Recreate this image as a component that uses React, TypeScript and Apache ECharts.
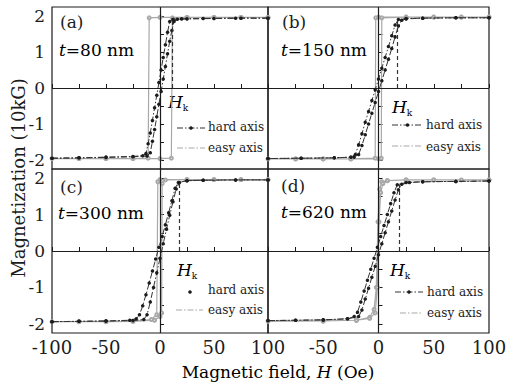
import React, { useEffect, useRef } from 'react';
import * as echarts from 'echarts';

// ---- data ----
const PANEL_TAGS = ['(a)', '(b)', '(c)', '(d)'];
const THICKNESS_NM = ['80', '150', '300', '620'];
const HK_FIELD = [11, 17, 17.5, 19];
const HK_TOP = [1.9, 1.88, 1.86, 1.82];
const X_TICKS = [-100, -75, -50, -25, 0, 25, 50, 75, 100];
const X_LABELS_LEFT = [-100, -50, 0, 50, 100];
const X_LABELS_RIGHT = [-50, 0, 50, 100];
const Y_TICKS = [-2, -1.5, -1, -0.5, 0, 0.5, 1, 1.5, 2];
const Y_LABELS = [-2, -1, 0, 1, 2];

// panel (a) t = 80 nm
const hardDownA = [[100,1.94],[70,1.94],[40,1.93],[20,1.92],[12,1.91],[9,1.85],[7,1.55],[5,1.2],[3,0.85],[1,0.5],[-1,0.15],[-3,-0.2],[-5,-0.55],[-7,-0.9],[-9,-1.25],[-11,-1.55],[-13,-1.82],[-16,-1.88],[-25,-1.9],[-50,-1.92],[-75,-1.94],[-100,-1.95]];
const hardUpA = [[-100,-1.95],[-75,-1.94],[-50,-1.93],[-25,-1.91],[-12,-1.89],[-9,-1.8],[-7,-1.48],[-5,-1.15],[-3,-0.8],[-1,-0.45],[1,-0.1],[3,0.25],[5,0.6],[7,0.95],[9,1.3],[11,1.6],[13,1.85],[16,1.91],[25,1.92],[50,1.93],[75,1.94],[100,1.94]];
const easyA = [[100,1.96],[75,1.96],[50,1.96],[25,1.96],[0,1.96],[-10,1.95],[-11,-1.95],[-25,-1.96],[-50,-1.96],[-75,-1.96],[-100,-1.96],[-75,-1.96],[-50,-1.96],[-25,-1.96],[0,-1.96],[10.5,-1.95],[11.5,1.95],[25,1.96],[50,1.96],[75,1.96],[100,1.96]];

// panel (b) t = 150 nm
const hardDownB = [[100,1.95],[70,1.95],[40,1.94],[25,1.93],[18,1.9],[15,1.75],[12,1.45],[9,1.15],[6,0.85],[3,0.55],[0,0.25],[-3,-0.05],[-6,-0.35],[-9,-0.65],[-12,-0.95],[-15,-1.27],[-18,-1.58],[-21,-1.85],[-25,-1.92],[-40,-1.94],[-70,-1.95],[-100,-1.96]];
const hardUpB = [[-100,-1.96],[-70,-1.95],[-40,-1.94],[-22,-1.92],[-18,-1.85],[-15,-1.6],[-12,-1.3],[-9,-1.0],[-6,-0.7],[-3,-0.4],[0,-0.1],[3,0.2],[6,0.5],[9,0.8],[12,1.1],[15,1.42],[18,1.72],[21,1.88],[25,1.92],[40,1.94],[70,1.95],[100,1.95]];
const easyB = [[100,1.97],[75,1.97],[50,1.97],[25,1.97],[0,1.97],[-2.5,1.95],[-3,-1.95],[-25,-1.97],[-50,-1.97],[-75,-1.97],[-100,-1.97],[-75,-1.97],[-50,-1.97],[-25,-1.97],[0,-1.97],[2.5,-1.95],[3,1.95],[25,1.97],[50,1.97],[75,1.97],[100,1.97]];

// panel (c) t = 300 nm
const hardDownC = [[100,1.95],[70,1.95],[40,1.94],[25,1.93],[17,1.88],[14,1.72],[11,1.38],[8,1.05],[5,0.72],[2,0.4],[-1,0.1],[-4,-0.22],[-7,-0.55],[-10,-0.88],[-13,-1.2],[-16,-1.5],[-19,-1.75],[-22,-1.86],[-28,-1.9],[-50,-1.92],[-75,-1.93],[-100,-1.94]];
const hardUpC = [[-100,-1.94],[-75,-1.93],[-50,-1.92],[-25,-1.91],[-15,-1.88],[-12,-1.75],[-9,-1.4],[-6,-1.0],[-3,-0.6],[0,-0.2],[3,0.2],[6,0.6],[9,0.98],[12,1.35],[15,1.7],[18,1.88],[25,1.93],[40,1.94],[70,1.95],[100,1.95]];
const easyC = [[100,1.96],[75,1.96],[50,1.96],[25,1.96],[0,1.96],[-2,1.9],[-3,-1.75],[-8,-1.88],[-25,-1.93],[-50,-1.94],[-75,-1.94],[-100,-1.94],[-75,-1.94],[-50,-1.94],[-25,-1.93],[-5,-1.9],[0,-1.8],[1.5,-1.7],[2,1.85],[5,1.95],[25,1.96],[50,1.96],[75,1.96],[100,1.96]];

// panel (d) t = 620 nm
const hardDownD = [[100,1.92],[70,1.91],[40,1.9],[25,1.88],[17,1.82],[14,1.6],[11,1.3],[8,1.0],[5,0.7],[2,0.4],[-1,0.1],[-4,-0.2],[-7,-0.5],[-10,-0.8],[-13,-1.1],[-16,-1.4],[-19,-1.68],[-22,-1.8],[-28,-1.86],[-50,-1.89],[-75,-1.9],[-100,-1.91]];
const hardUpD = [[-100,-1.91],[-75,-1.9],[-50,-1.89],[-28,-1.86],[-18,-1.8],[-15,-1.62],[-12,-1.32],[-9,-1.02],[-6,-0.72],[-3,-0.42],[0,-0.1],[3,0.2],[6,0.5],[9,0.8],[12,1.1],[15,1.4],[18,1.68],[21,1.83],[28,1.88],[40,1.9],[70,1.91],[100,1.92]];
const easyD = [[100,1.95],[75,1.95],[50,1.95],[25,1.95],[8,1.93],[3,1.9],[1,1.7],[-0.5,0.8],[-2,-1.0],[-4,-1.6],[-8,-1.82],[-20,-1.9],[-50,-1.92],[-100,-1.93],[-50,-1.92],[-20,-1.9],[-8,-1.85],[-3,-1.7],[-1,-1.0],[0.5,0.8],[2,1.6],[4,1.85],[8,1.93],[25,1.95],[50,1.95],[100,1.95]];

const HARD_DOWN = [hardDownA, hardDownB, hardDownC, hardDownD];
const HARD_UP = [hardUpA, hardUpB, hardUpC, hardUpD];
const EASY = [easyA, easyB, easyC, easyD];

// ---- layout ----
const GRID_LEFT = [52, 268, 52, 268];
const GRID_TOP = [7, 7, 169, 169];
const GRID_W = [216, 221, 216, 221];
const GRID_H = [162, 162, 164, 164];
const TAG_POS = [[60, 22], [282, 22], [60, 187], [281, 186]];
const THICK_POS = [[59, 50], [281, 50], [58, 213], [281, 212]];
const HK_POS = [[168, 102], [392, 107], [177, 270], [390, 270]];
const LEG_HARD = [[177, 205, 128], [392, 423, 125], [190, 190, 292], [395, 423, 292]];
const LEG_EASY = [[177, 205, 148], [392, 423, 146], [176, 203, 310], [400, 423, 313]];
const LEG_TEXT_X = [208, 426, 208, 427];
const LEG_TEXT_Y = [[127, 148], [125, 147], [290, 310], [292, 313]];

const FONT = 'DejaVu Serif';
const INK = '#1c1c1c';
const GRAY = '#a8a8a8';
const DASHDOT = [6, 2, 1.5, 2];

export default function App() {
  const ref = useRef<HTMLDivElement>(null);
  useEffect(() => {
    document.body.style.margin = '0';
    const chart = echarts.init(ref.current!, null, { renderer: 'svg' });
    const grid: any[] = [];
    const xAxis: any[] = [];
    const yAxis: any[] = [];
    const series: any[] = [];
    const graphic: any[] = [];
    for (let i = 0; i < 4; i++) {
      grid.push({ left: GRID_LEFT[i], top: GRID_TOP[i], width: GRID_W[i], height: GRID_H[i], show: true, borderColor: INK, borderWidth: 1.2, backgroundColor: 'transparent' });
      const bottomRow = i >= 2;
      const leftCol = i % 2 === 0;
      xAxis.push({
        type: 'value', gridIndex: i, min: -100, max: 100, interval: 25,
        axisLine: { show: false },
        axisTick: { show: true, inside: true, length: 4, lineStyle: { color: INK }, customValues: X_TICKS },
        splitLine: { show: false },
        axisLabel: bottomRow
          ? { show: true, customValues: leftCol ? X_LABELS_LEFT : X_LABELS_RIGHT, fontFamily: FONT, fontSize: 18, color: INK, margin: 5 }
          : { show: false },
      });
      yAxis.push({
        type: 'value', gridIndex: i, min: -2.25, max: 2.25,
        axisLine: { show: false },
        axisTick: { show: true, inside: true, length: 4, lineStyle: { color: INK }, customValues: Y_TICKS },
        splitLine: { show: false },
        axisLabel: leftCol
          ? { show: true, customValues: Y_LABELS, fontFamily: FONT, fontSize: 17, color: INK, margin: 7 }
          : { show: false },
      });
      series.push({
        type: 'line', xAxisIndex: i, yAxisIndex: i, data: EASY[i],
        symbol: 'emptyCircle', symbolSize: 3, showSymbol: true,
        lineStyle: { color: GRAY, width: 1.2 }, itemStyle: { color: GRAY, borderColor: GRAY },
        z: 2,
        markLine: {
          silent: true, symbol: ['none', 'none'], label: { show: false },
          data: [
            { xAxis: 0, lineStyle: { type: 'solid', color: INK, width: 1.2 } },
            { yAxis: 0, lineStyle: { type: 'solid', color: INK, width: 1.2 } },
            [
              { coord: [HK_FIELD[i], 0], lineStyle: { type: [4, 3], color: '#333', width: 1.2 } },
              { coord: [HK_FIELD[i], HK_TOP[i]] },
            ],
          ],
        },
      });
      [HARD_DOWN[i], HARD_UP[i]].forEach((d) => {
        series.push({
          type: 'line', xAxisIndex: i, yAxisIndex: i, data: d,
          symbol: 'circle', symbolSize: 3.5, showSymbol: true,
          lineStyle: { color: '#333', width: 1, type: DASHDOT }, itemStyle: { color: INK },
          z: 3,
        });
      });

      // annotations
      graphic.push({ type: 'text', x: TAG_POS[i][0], y: TAG_POS[i][1], style: { text: PANEL_TAGS[i], fontFamily: FONT, fontSize: 17, fill: INK, textVerticalAlign: 'middle' } });
      graphic.push({
        type: 'text', x: THICK_POS[i][0], y: THICK_POS[i][1],
        style: {
          text: `{i|t}{n|=${THICKNESS_NM[i]} nm}`, textVerticalAlign: 'middle',
          rich: { i: { fontFamily: FONT, fontStyle: 'italic', fontSize: 17, color: INK }, n: { fontFamily: FONT, fontSize: 17, color: INK } },
        },
      });
      graphic.push({
        type: 'text', x: HK_POS[i][0], y: HK_POS[i][1],
        style: {
          text: '{h|H}{k|k}', textVerticalAlign: 'middle',
          rich: {
            h: { fontFamily: FONT, fontStyle: 'italic', fontSize: 17, color: '#333' },
            k: { fontFamily: FONT, fontSize: 9, color: '#333', padding: [12, 0, 0, 0] },
          },
        },
      });
      const lh = LEG_HARD[i];
      if (lh[1] > lh[0]) {
        graphic.push({ type: 'line', shape: { x1: lh[0], y1: lh[2], x2: lh[1], y2: lh[2] }, style: { stroke: '#333', lineWidth: 1, lineDash: DASHDOT } });
      }
      graphic.push({ type: 'circle', shape: { cx: (lh[0] + lh[1]) / 2, cy: lh[2], r: 1.8 }, style: { fill: INK } });
      const le = LEG_EASY[i];
      graphic.push({ type: 'line', shape: { x1: le[0], y1: le[2], x2: le[1], y2: le[2] }, style: { stroke: GRAY, lineWidth: 1.2, lineDash: DASHDOT } });
      graphic.push({ type: 'text', x: LEG_TEXT_X[i], y: LEG_TEXT_Y[i][0], style: { text: 'hard axis', fontFamily: FONT, fontSize: 12, fill: INK, textVerticalAlign: 'middle' } });
      graphic.push({ type: 'text', x: LEG_TEXT_X[i], y: LEG_TEXT_Y[i][1], style: { text: 'easy axis', fontFamily: FONT, fontSize: 12, fill: INK, textVerticalAlign: 'middle' } });
    }
    graphic.push({
      type: 'text', x: 18, y: 178, rotation: Math.PI / 2,
      style: { text: 'Magnetization (10kG)', fontFamily: FONT, fontSize: 18, fill: INK, textAlign: 'center', textVerticalAlign: 'middle' },
    });
    graphic.push({
      type: 'text', x: 278, y: 372,
      style: {
        text: '{n|Magnetic field, }{i|H}{n| (Oe)}', textAlign: 'center', textVerticalAlign: 'middle',
        rich: { n: { fontFamily: FONT, fontSize: 17, color: INK }, i: { fontFamily: FONT, fontSize: 17, fontStyle: 'italic', color: INK } },
      },
    });
    chart.setOption({ animation: false, backgroundColor: '#fff', grid, xAxis, yAxis, series, graphic });
    return () => chart.dispose();
  }, []);
  return <div ref={ref} style={{ width: 516, height: 383 }} />;
}
